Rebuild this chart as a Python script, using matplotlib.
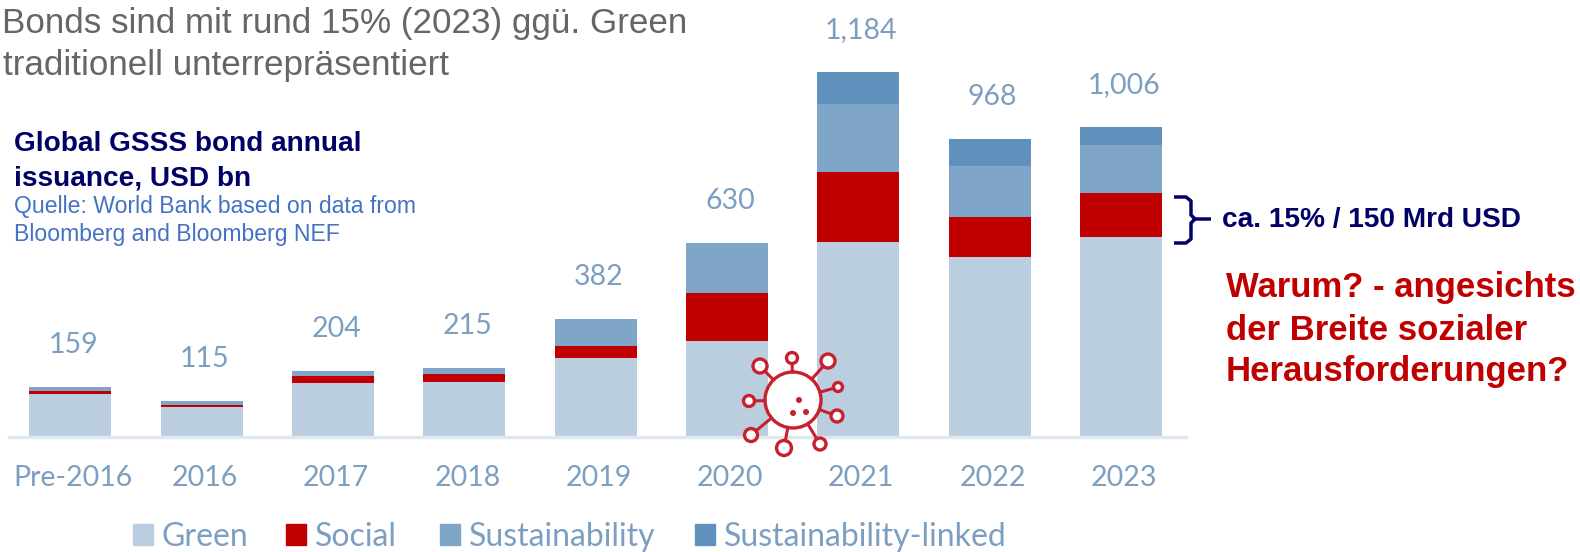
import matplotlib
matplotlib.use("Agg")
import matplotlib.pyplot as plt
import numpy as np
from matplotlib.patches import Circle, Patch
from matplotlib.transforms import ScaledTranslation

years = ["Pre-2016", "2016", "2017", "2018", "2019", "2020", "2021", "2022", "2023"]
green = [140, 97, 175, 178, 256, 313, 632, 586, 649]
social = [8, 6, 22, 26, 39, 155, 230, 127, 143]
sustainability = [13, 15, 17, 20, 87, 162, 218, 167, 156]
linked = [0, 0, 0, 0, 0, 0, 104, 88, 58]
totals = ["159", "115", "204", "215", "382", "630", "1,184", "968", "1,006"]

C_GREEN, C_SOCIAL, C_SUST, C_LINK = "#BBCEE0", "#C00000", "#7FA6C8", "#6090BC"
C_LABEL = "#7C9FC1"
NAVY = "#000066"
W, H = 1580, 552

fig = plt.figure(figsize=(W / 100, H / 100), dpi=100, facecolor="white")
ax = fig.add_axes([9 / W, (H - 437) / H, 1177 / W, 437 / H])
ax.set_xlim(-0.468, 8.496)
ax.set_ylim(0, 1419)
ax.patch.set_alpha(0)
for s in ["top", "left", "right"]:
    ax.spines[s].set_visible(False)
ax.spines["bottom"].set_color("#DFE7F0")
ax.spines["bottom"].set_linewidth(2.5)
ax.set_yticks([])

x = np.arange(len(years))
bottom = np.zeros(len(years))
for vals, col, lab in [(green, C_GREEN, "Green"), (social, C_SOCIAL, "Social"),
                       (sustainability, C_SUST, "Sustainability"), (linked, C_LINK, "Sustainability-linked")]:
    ax.bar(x, vals, 0.625, bottom=bottom, color=col, label=lab, linewidth=0)
    bottom += np.array(vals)

for xi, top, t in zip(x, bottom, totals):
    ax.annotate(t, (xi, top), xytext=(3 * 0.72, 42 * 0.72), textcoords="offset points", ha="center", va="center",
                fontsize=20.5, color=C_LABEL, family="Lato", annotation_clip=False)

ax.set_xticks(x, years)
ax.tick_params(axis="x", length=0, pad=20, labelsize=20.5, labelcolor=C_LABEL)
shift = ScaledTranslation(3 / 100, 0, fig.dpi_scale_trans)
for l in ax.get_xticklabels():
    l.set_family("Lato")
    l.set_transform(l.get_transform() + shift)

entries = [(C_GREEN, "Green", 133), (C_SOCIAL, "Social", 286), (C_SUST, "Sustainability", 440),
           (C_LINK, "Sustainability-linked", 695)]
for col, name, xp in entries:
    fig.legend(handles=[Patch(color=col, label=name)], loc="center left", bbox_to_anchor=(xp / W, 1 - 537 / H),
               frameon=False, prop={"family": "Lato", "size": 23}, labelcolor=C_LABEL,
               handlelength=0.62, handleheight=0.62, handletextpad=0.28, borderpad=0, borderaxespad=0)


def px(xp, yp):
    return xp / W, 1 - yp / H


def text(xp, yp, s, **kw):
    fig.text(*px(xp, yp), s, family="Liberation Sans", va="center", **kw)


text(2, 24, "Bonds sind mit rund 15% (2023) ggü. Green", fontsize=25.2, color="#666666", ha="left")
text(3, 65, "traditionell unterrepräsentiert", fontsize=25.2, color="#666666", ha="left")
text(14, 144, "Global GSSS bond annual", fontsize=20.2, color=NAVY, weight="bold")
text(14, 179, "issuance, USD bn", fontsize=20.2, color=NAVY, weight="bold")
text(14, 207, "Quelle: World Bank based on data from", fontsize=16.6, color="#4472C4")
text(14, 234, "Bloomberg and Bloomberg NEF", fontsize=16.6, color="#4472C4")
text(1222, 220, "ca. 15% / 150 Mrd USD", fontsize=20.2, color=NAVY, weight="bold")
text(1226, 287, "Warum? - angesichts", fontsize=25, color="#C00000", weight="bold")
text(1226, 331, "der Breite sozialer", fontsize=25, color="#C00000", weight="bold")
text(1226, 372, "Herausforderungen?", fontsize=25, color="#C00000", weight="bold")

# overlay in pixel coordinates (y down)
ov = fig.add_axes([0, 0, 1, 1], facecolor="none")
ov.set_xlim(0, W)
ov.set_ylim(H, 0)
ov.axis("off")

# bracket
ov.plot([1174, 1186, 1191, 1191, 1195, 1211], [197, 197, 201, 215, 219, 219], color=NAVY, lw=2.5, solid_capstyle="butt")
ov.plot([1174, 1186, 1191, 1191, 1195], [243, 243, 239, 223, 219], color=NAVY, lw=2.5, solid_capstyle="butt")

# virus icon
VR = "#C8202C"
cx, cy = 793, 400
ov.add_patch(Circle((cx, cy), 28, fc="white", ec=VR, lw=2.4))
spikes = [(760, 366, 7), (792, 358, 5.5), (828, 361, 7), (838, 387, 4.5), (837, 416, 6),
          (820, 444, 6), (784, 448, 7.5), (751, 435, 6.5), (749, 401, 5.5)]
for sx, sy, r in spikes:
    d = np.array([sx - cx, sy - cy])
    u = d / np.hypot(*d)
    ov.plot([cx + u[0] * 28, sx - u[0] * r], [cy + u[1] * 28, sy - u[1] * r], color=VR, lw=2.2)
    ov.add_patch(Circle((sx, sy), r, fc="white", ec=VR, lw=2.4))
for dx, dy in [(799, 400), (793, 413), (806, 412)]:
    ov.add_patch(Circle((dx, dy), 3, fc=VR, ec="none"))

fig.savefig("out.png", dpi=100, facecolor="white")
